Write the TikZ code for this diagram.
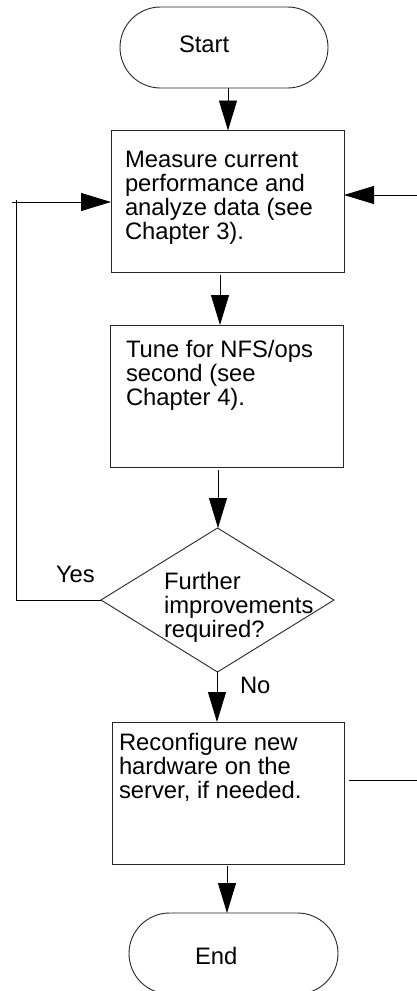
\documentclass[tikz,border=0pt]{standalone}
\usepackage{fontspec}
\setmainfont{Liberation Sans}
\usetikzlibrary{arrows.meta,shapes.geometric}
\begin{document}
\begin{tikzpicture}[x=1pt,y=-1pt,
  every node/.style={inner sep=0pt,outer sep=0pt},
  shapeline/.style={draw=black!85,line width=0.9pt},
  terminal/.style={shapeline,rectangle,rounded corners=40.5pt,minimum height=81pt},
  procbox/.style={shapeline,rectangle,minimum width=233pt,minimum height=142pt},
  decision/.style={shapeline,diamond,aspect=1.62,minimum width=233pt,minimum height=144pt},
  lbl/.style={anchor=base west,align=left,font=\fontsize{23.8}{24}\selectfont},
  conn/.style={draw=black,line width=0.9pt},
  arr/.style={conn,-{Triangle[length=30pt,width=18pt]}}
]
\useasboundingbox (0,0) rectangle (417,991);
% shapes
\node[terminal,minimum width=208pt] (start) at (224,47.5) {};
\node[procbox] (box1) at (227.5,201.5) {};
\node[procbox] (box2) at (226.5,396) {};
\node[decision] (dia) at (217.5,600) {};
\node[procbox,minimum width=232pt] (box3) at (228,793) {};
\node[terminal,minimum width=209pt] (end) at (233.5,953.5) {};
% texts (base anchor = baseline of the last line)
\node[lbl] (tstart) at (179,52.3) {Start};
\node[lbl] (t1) at (125,239.3) {Measure current\\performance and\\analyze data (see\\Chapter 3).};
\node[lbl] (t2) at (126,405.3) {Tune for NFS/ops\\second (see\\Chapter 4).};
\node[lbl] (td) at (164,637.3) {Further\\improvements\\required?};
\node[lbl] (t3) at (119,798.7) {Reconfigure new\\hardware on the\\server, if needed.};
\node[lbl] (tend) at (195,964) {End};
\node[lbl] (yes) at (56,582.7) {Yes};
\node[lbl] (no) at (240,693.3) {No};
% column coordinates
\coordinate (xa) at (228,0);
\coordinate (xb) at (220,0);
\coordinate (xc) at (218,0);
\coordinate (xd) at (217,0);
\coordinate (xe) at (227,0);
\coordinate (loopx) at (16,0);
\coordinate (loopin) at (12,202);
\coordinate (rin) at (418,195);
\coordinate (rout) at (418,780);
\coordinate (routs) at (349,780);
% connectors
\draw[arr] (start.south -| xa) -- (box1.north -| xa);
\draw[arr] ([yshift=-2pt]box1.south -| xb) -- (box2.north -| xb);
\draw[arr] ([yshift=-3pt]box2.south -| xc) -- (dia.north -| xc);
\draw[arr] (dia.south -| xd) -- (box3.north -| xd);
\draw[arr] ([yshift=-2pt]box3.south -| xe) -- (end.north -| xe);
\draw[conn] (dia.west) -- (dia.west -| loopx) -- ([yshift=2pt]loopin -| loopx);
\draw[arr] (loopin) -- (loopin -| box1.west);
\draw[arr] (rin) -- (rin -| box1.east);
\draw[conn] (routs) -- (rout);
\end{tikzpicture}
\end{document}
